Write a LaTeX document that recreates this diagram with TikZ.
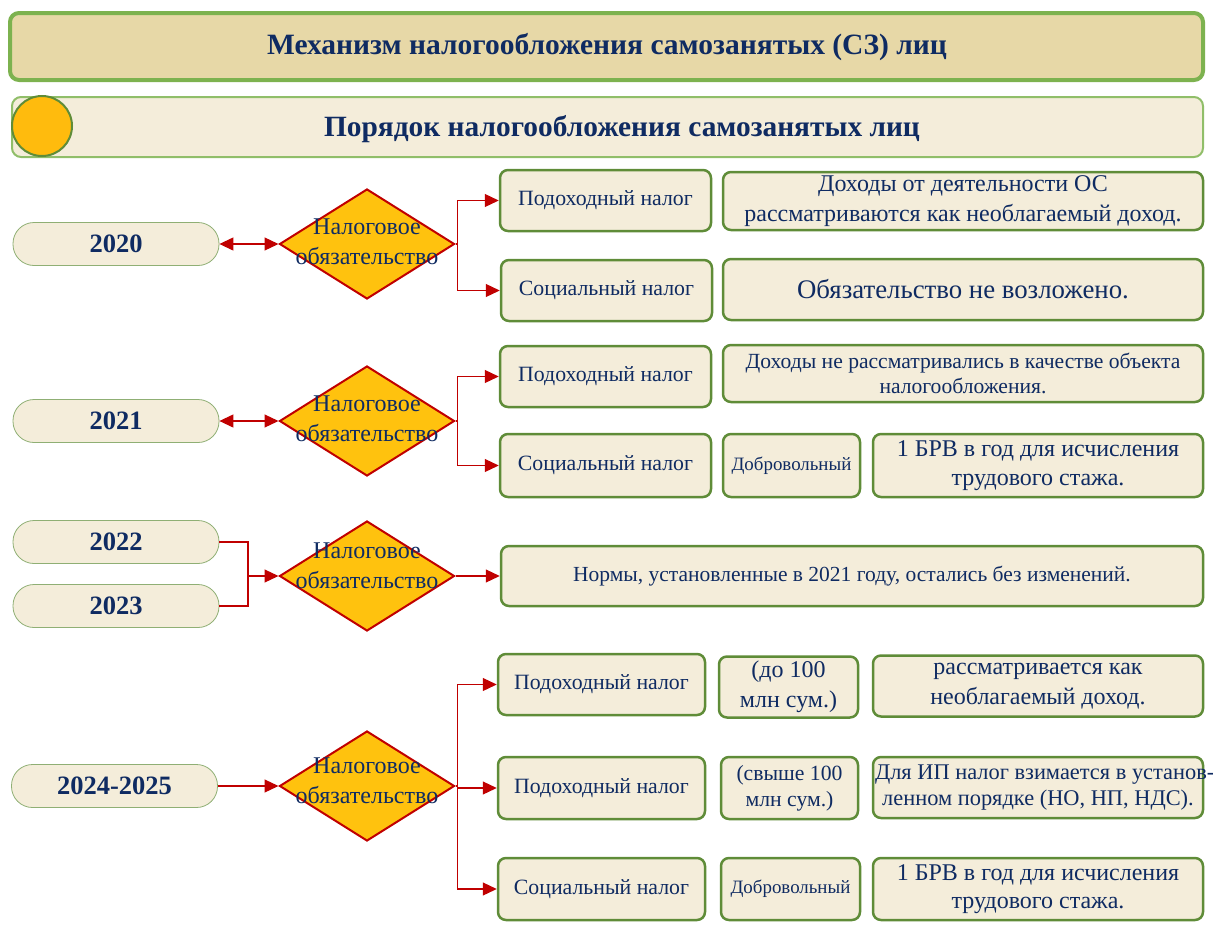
\documentclass[tikz,border=0pt]{standalone}
\usepackage{fontspec}
\setmainfont{Liberation Serif}
\usetikzlibrary{shapes.geometric,arrows.meta}
\definecolor{navy}{HTML}{0F2B62}
\definecolor{paper}{HTML}{F4EDDA}
\definecolor{sand}{HTML}{E7D8A7}
\definecolor{leaf}{HTML}{5F8C38}
\definecolor{lightleaf}{HTML}{7DB24F}
\definecolor{gold}{HTML}{FFC20E}
\definecolor{crimson}{HTML}{C00000}
\pgfmathsetmacro{\diamW}{175}
\pgfmathsetmacro{\diamH}{110}
\tikzset{
	year/.style= {
		rectangle, rounded corners=21pt,
		draw=leaf!70!white, line width=0.8pt, fill=paper,
		minimum width=206pt, minimum height=43pt,
		text=navy, font=\fontsize{26.5}{30}\selectfont\bfseries
	},
	taxdiam/.style= {
		diamond, draw=crimson, line width=2pt, fill=gold,
		minimum width=\diamW*1pt, minimum height=\diamH*1pt, inner sep=0
	},
	diamtext/.style= {text=navy, align=center, font=\fontsize{24}{30}\selectfont},
	gbox/.style= {
		rectangle, rounded corners=8pt,
		draw=leaf, line width=2.5pt, fill=paper,
		text=navy, align=center, inner sep=1pt,
		font=\fontsize{21.8}{30}\selectfont
	},
	arr/.style= {draw=crimson, line width=1.2pt, -{Triangle[length=14pt,width=13pt]}},
	dbl/.style= {arr, {Triangle[length=14pt,width=13pt]}-{Triangle[length=14pt,width=13pt]}}
}

\begin{document}
\begin{tikzpicture}[x=1pt,y=-1pt]
\useasboundingbox (0,0) rectangle (1213,926);

% headers
\node[rectangle, rounded corners=9pt, draw=lightleaf, line width=4pt, fill=sand,
	minimum width=1193pt, minimum height=67pt] (head) at (606.5,46.5) {};
\node[text=navy, font=\fontsize{29.5}{32}\selectfont\bfseries] (headt) at (607,47)
	{Механизм налогообложения самозанятых (СЗ) лиц};
\node[rectangle, rounded corners=9pt, draw=lightleaf!85!white, line width=2pt, fill=paper,
	minimum width=1191pt, minimum height=60pt] (sub) at (607.5,127) {};
\node[circle, draw=leaf, line width=2pt, fill=gold!90!orange, minimum size=60pt] (dot) at (42,126) {};
\node[text=navy, font=\fontsize{29.4}{32}\selectfont\bfseries] (subt) at (622,129)
	{Порядок налогообложения самозанятых лиц};

% 2020
\node[year] (y20) at (116,244) {2020};
\node[taxdiam] (d20) at (367,244) {};
\node[diamtext] (d20t) at (367,242) {Налоговое\\обязательство};
\node[gbox, minimum width=211pt, minimum height=61pt] (p20) at (605.5,200.5) {Подоходный налог};
\node[gbox, minimum width=211pt, minimum height=61pt] (s20) at (606.5,290.5) {Социальный налог};
\node[gbox, minimum width=480pt, minimum height=58pt, font=\fontsize{24}{30}\selectfont] (p20t) at (963,201)
	{Доходы от деятельности ОС\\рассматриваются как необлагаемый доход.};
\node[gbox, minimum width=480pt, minimum height=61pt, font=\fontsize{26.8}{30}\selectfont] (s20t) at (963,289.5)
	{Обязательство не возложено.};
\draw[dbl] (y20.east) -- (d20.west);
\foreach \b in {p20,s20}
	\draw[arr] (d20.east) -- ++(2,0) |- (\b.west);

% 2021
\node[year] (y21) at (116,421) {2021};
\node[taxdiam] (d21) at (367,421) {};
\node[diamtext] (d21t) at (367,419) {Налоговое\\обязательство};
\node[gbox, minimum width=211pt, minimum height=61pt] (p21) at (605.5,376.5) {Подоходный налог};
\node[gbox, minimum width=211pt, minimum height=63pt] (s21) at (605.5,465.5) {Социальный налог};
\node[gbox, minimum width=480pt, minimum height=57pt, font=\fontsize{21.6}{25}\selectfont] (p21t) at (963,373.5)
	{Доходы не рассматривались в качестве объекта\\налогообложения.};
\node[gbox, minimum width=137pt, minimum height=63pt, font=\fontsize{18.9}{22}\selectfont] (v21) at (791.5,465.5) {Добровольный};
\node[gbox, minimum width=330pt, minimum height=63pt, font=\fontsize{24}{29}\selectfont] (s21t) at (1038,465.5)
	{1 БРВ в год для исчисления\\трудового стажа.};
\draw[dbl] (y21.east) -- (d21.west);
\foreach \b in {p21,s21}
	\draw[arr] (d21.east) -- ++(2,0) |- (\b.west);

% 2022 - 2023
\node[year] (y22) at (116,542) {2022};
\node[year] (y23) at (116,606) {2023};
\node[taxdiam] (d22) at (367,576) {};
\node[diamtext] (d22t) at (367,566) {Налоговое\\обязательство};
\node[gbox, minimum width=702pt, minimum height=60pt, font=\fontsize{21.5}{25}\selectfont] (n22) at (852,576)
	{Нормы, установленные в 2021 году, остались без изменений.};
\coordinate (j22) at (248,576);
\draw[crimson, line width=1.2pt] (y22.east) -| (j22) |- (y23.east);
\draw[arr] (j22) -- (d22.west);
\draw[arr] (d22.east) -- (n22.west);

% 2024 - 2025
\node[year] (y24) at (114.5,786) {2024-2025};
\node[taxdiam] (d24) at (367,786) {};
\node[diamtext] (d24t) at (367,781) {Налоговое\\обязательство};
\node[gbox, minimum width=207pt, minimum height=61pt] (p24a) at (601.5,684.5) {Подоходный налог};
\node[gbox, minimum width=139pt, minimum height=61pt, font=\fontsize{24}{30}\selectfont] (l24a) at (788.5,687)
	{(до 100\\млн сум.)};
\node[gbox, minimum width=330pt, minimum height=61pt, font=\fontsize{24}{30}\selectfont] (t24a) at (1038,686)
	{рассматривается как\\необлагаемый доход.};
\node[gbox, minimum width=207pt, minimum height=62pt] (p24b) at (601.5,788) {Подоходный налог};
\node[gbox, minimum width=137pt, minimum height=62pt, font=\fontsize{21.7}{26}\selectfont] (l24b) at (789.5,788)
	{(свыше 100\\млн сум.)};
\node[gbox, minimum width=330pt, minimum height=61pt, font=\fontsize{22.4}{26}\selectfont] (t24b) at (1038,787.5)
	{\makebox[326pt][l]{Для ИП налог взимается в установ-}\\\makebox[326pt][c]{ленном порядке (НО, НП, НДС).}};
\node[gbox, minimum width=207pt, minimum height=62pt] (s24) at (601.5,889) {Социальный налог};
\node[gbox, minimum width=139pt, minimum height=62pt, font=\fontsize{18.9}{22}\selectfont] (v24) at (790.5,889) {Добровольный};
\node[gbox, minimum width=330pt, minimum height=62pt, font=\fontsize{24}{28}\selectfont] (s24t) at (1038,889)
	{1 БРВ в год для исчисления\\трудового стажа.};
\draw[arr] (y24.east) -- (d24.west);
\foreach \b in {p24a,p24b,s24}
	\draw[arr] (d24.east) -- ++(2,0) |- (\b.west);
\end{tikzpicture}
\end{document}
